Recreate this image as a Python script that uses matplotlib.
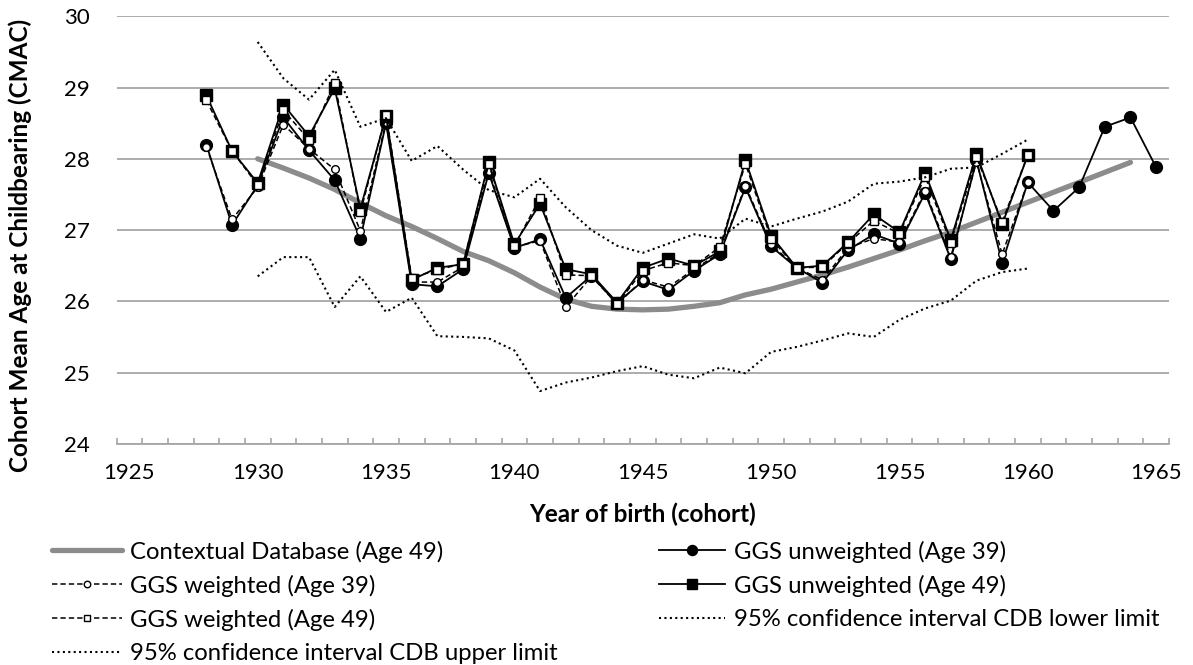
import matplotlib
matplotlib.use('Agg')
import matplotlib.pyplot as plt
from matplotlib.lines import Line2D
import numpy as np

# ---------------- data ----------------
years_ggs = list(range(1928, 1961))
years_unw39 = list(range(1928, 1966))
years_cdb = list(range(1930, 1965))
years_ci = list(range(1930, 1961))

cdb = [28.00, 27.87, 27.73, 27.57, 27.38, 27.20, 27.05, 26.88, 26.70, 26.57,
       26.40, 26.20, 26.03, 25.93, 25.89, 25.88, 25.89, 25.93, 25.98, 26.09,
       26.17, 26.27, 26.37, 26.48, 26.60, 26.72, 26.85, 26.97, 27.11, 27.25,
       27.39, 27.53, 27.67, 27.81, 27.95]

unw39 = [28.20, 27.07, 27.63, 28.58, 28.12, 27.70, 26.88, 28.50, 26.24, 26.21,
         26.45, 27.80, 26.75, 26.87, 26.05, 26.36, 25.98, 26.28, 26.16, 26.43,
         26.66, 27.60, 26.77, 26.47, 26.26, 26.72, 26.94, 26.81, 27.52, 26.59,
         27.98, 26.54, 27.67, 27.27, 27.60, 28.45, 28.58, 27.88]

w39 = [28.17, 27.15, 27.60, 28.48, 28.14, 27.85, 26.99, 28.52, 26.27, 26.27,
       26.48, 27.83, 26.76, 26.85, 25.92, 26.35, 25.96, 26.30, 26.20, 26.45,
       26.68, 27.62, 26.80, 26.47, 26.30, 26.75, 26.88, 26.83, 27.55, 26.62,
       27.96, 26.66, 27.67]

unw49 = [28.89, 28.11, 27.66, 28.76, 28.32, 28.99, 27.30, 28.60, 26.30, 26.47,
         26.52, 27.95, 26.80, 27.37, 26.45, 26.38, 25.98, 26.47, 26.60, 26.50,
         26.70, 27.98, 26.92, 26.47, 26.50, 26.83, 27.22, 26.97, 27.80, 26.86,
         28.07, 27.08, 28.05]

w49 = [28.82, 28.11, 27.63, 28.68, 28.27, 29.06, 27.25, 28.62, 26.33, 26.44,
       26.53, 27.93, 26.78, 27.45, 26.37, 26.36, 25.96, 26.43, 26.54, 26.50,
       26.76, 27.93, 26.88, 26.47, 26.48, 26.82, 27.13, 26.95, 27.75, 26.82,
       28.02, 27.12, 28.05]

ci_lower = [26.35, 26.62, 26.62, 25.92, 26.35, 25.85, 26.05, 25.51, 25.50, 25.48,
            25.31, 24.74, 24.86, 24.93, 25.02, 25.09, 24.97, 24.92, 25.07, 24.99,
            25.29, 25.36, 25.45, 25.55, 25.50, 25.74, 25.90, 26.01, 26.29, 26.41,
            26.46]

ci_upper = [29.64, 29.13, 28.83, 29.25, 28.45, 28.57, 27.97, 28.18, 27.85, 27.56,
            27.46, 27.72, 27.32, 27.00, 26.78, 26.68, 26.81, 26.94, 26.88, 27.16,
            27.05, 27.16, 27.26, 27.40, 27.65, 27.68, 27.74, 27.86, 27.88, 28.07,
            28.27]

xtick_labels = ['1925', '1930', '1935', '1940', '1945', '1950', '1955', '1960', '1965']
ytick_labels = ['24', '25', '26', '27', '28', '29', '30']

labels = ['Contextual Database (Age 49)', 'GGS unweighted (Age 39)',
          'GGS weighted (Age 39)', 'GGS unweighted (Age 49)',
          'GGS weighted (Age 49)', '95% confidence interval CDB lower limit',
          '95% confidence interval CDB upper limit']

# ---------------- figure ----------------
plt.rcParams['font.family'] = ['Lato', 'DejaVu Sans']
W, H = 1193, 665
fig = plt.figure(figsize=(W / 100, H / 100), dpi=100)
L, R, T, B = 116.5, 1169, 16.3, 443.8
ax = fig.add_axes([L / W, 1 - B / H, (R - L) / W, (B - T) / H])

TICK_FS = 16
TXT_FS = 17.2
TITLE_FS = 17.5

grid_c = '#a6a6a6'
ax.set_xlim(1924.5, 1965.5)
ax.set_ylim(24, 30)
ax.set_yticks(range(24, 31))
ax.set_yticklabels(ytick_labels)
ax.set_xticks(range(1925, 1966, 5))
ax.set_xticklabels(xtick_labels)
ax.set_xticks(np.arange(1924.5, 1966, 1.0), minor=True)
ax.tick_params(axis='x', which='major', length=0, pad=14, labelsize=TICK_FS)
ax.tick_params(axis='x', which='minor', direction='in', length=4.5,
               width=1.2, color=grid_c)
ax.tick_params(axis='y', length=0, pad=19, labelsize=TICK_FS)
for s in ['left', 'right', 'top']:
    ax.spines[s].set_visible(False)
ax.spines['bottom'].set_color(grid_c)
ax.spines['bottom'].set_linewidth(1.3)
ax.yaxis.grid(True, color=grid_c, linewidth=1.3)
ax.set_axisbelow(True)

s_cdb = dict(color='#8c8c8c', lw=3.8, solid_capstyle='round')
s_u39 = dict(color='black', lw=1.3, marker='o', markersize=8.5, markerfacecolor='black')
s_w39 = dict(color='black', lw=1.1, ls=(0, (3.5, 2)), marker='o', markersize=5.5,
             markerfacecolor='white', markeredgewidth=1.0)
s_u49 = dict(color='black', lw=1.3, marker='s', markersize=8, markerfacecolor='black')
s_w49 = dict(color='black', lw=1.1, ls=(0, (3.5, 2)), marker='s', markersize=5.5,
             markerfacecolor='white', markeredgewidth=1.0)
s_ci = dict(color='black', lw=1.5, ls=(0, (1, 1.6)))

ax.plot(years_cdb, cdb, zorder=2, **s_cdb)
ax.plot(years_unw39, unw39, zorder=3, **s_u39)
ax.plot(years_ggs, w39, zorder=4, **s_w39)
ax.plot(years_ggs, unw49, zorder=5, **s_u49)
ax.plot(years_ggs, w49, zorder=6, **s_w49)
ax.plot(years_ci, ci_lower, zorder=7, **s_ci)
ax.plot(years_ci, ci_upper, zorder=7, **s_ci)

# axis titles
fig.text((L + R) / 2 / W, 1 - 514 / H, 'Year of birth (cohort)', fontsize=TITLE_FS,
         fontweight='bold', ha='center', va='center')
fig.text(20 / W, 1 - 245 / H, 'Cohort Mean Age at Childbearing (CMAC)',
         fontsize=TITLE_FS, fontweight='bold', ha='center', va='center', rotation=90)

# legend (two columns, Excel style)
styles = [s_cdb, s_u39, s_w39, s_u49, s_w49, s_ci, s_ci]
order_pos = {0: (0, 0), 1: (1, 0), 2: (0, 1), 3: (1, 1), 4: (0, 2), 5: (1, 2), 6: (0, 3)}
col_x = [(52, 122, 130), (659, 725, 734)]
row_y = [550, 584, 618, 652]
for i, lab in enumerate(labels):
    c, r = order_pos[i]
    x0, x1, xt = col_x[c]
    y = 1 - row_y[r] / H
    st = dict(styles[i])
    mk = st.pop('marker', None)
    ms = st.pop('markersize', None)
    mfc = st.pop('markerfacecolor', None)
    mew = st.pop('markeredgewidth', 1.0)
    fig.add_artist(Line2D([x0 / W, x1 / W], [y, y], transform=fig.transFigure, **st))
    if mk is not None:
        fig.add_artist(Line2D([(x0 + x1) / 2 / W], [y], transform=fig.transFigure,
                              marker=mk, markersize=ms * 0.85, markerfacecolor=mfc,
                              markeredgecolor='black', markeredgewidth=mew, ls='none'))
    fig.text(xt / W, y, lab, fontsize=TXT_FS, ha='left', va='center_baseline')

fig.savefig('out.png', dpi=100)
